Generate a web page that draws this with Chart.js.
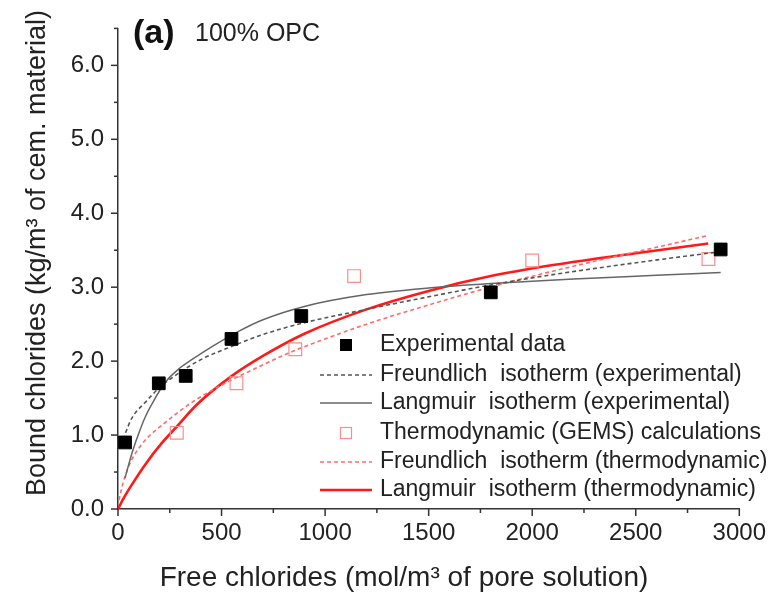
<!DOCTYPE html>
<html>
<head>
<meta charset="utf-8">
<script src="https://cdn.jsdelivr.net/npm/chart.js@4.4.1/dist/chart.umd.min.js"></script>
<style>
  html, body { margin: 0; padding: 0; background: #fff; }
  #wrap { width: 776px; height: 594px; }
</style>
</head>
<body>
<div id="wrap"><canvas id="isoChart"></canvas></div>
<script>
// measured points
const expX = [34, 197, 327, 548, 885, 1800, 2910];
const expY = [0.90, 1.70, 1.80, 2.30, 2.61, 2.93, 3.51];
const gemsX = [284, 572, 856, 1140, 2000, 2851];
const gemsY = [1.03, 1.70, 2.16, 3.15, 3.36, 3.38];

// fitted curves
const freExpX = [15, 30, 67, 131, 200, 300, 400, 550, 700, 900, 1200, 1500, 1800, 2100, 2500, 2880];
const freExpY = [0.85, 0.98, 1.23, 1.44, 1.64, 1.85, 2.02, 2.20, 2.36, 2.52, 2.70, 2.87, 3.03, 3.17, 3.33, 3.47];
const lanExpX = [34, 67, 100, 131, 160, 227, 300, 356, 450, 580, 700, 900, 1200, 1500, 1800, 2200, 2600, 2910];
const lanExpY = [0.42, 0.75, 1.02, 1.24, 1.40, 1.71, 1.91, 2.02, 2.19, 2.40, 2.56, 2.74, 2.90, 2.99, 3.05, 3.11, 3.16, 3.20];
const freThX = [5, 15, 35, 67, 131, 211, 340, 450, 640, 850, 1000, 1200, 1500, 1850, 2300, 2600, 2850];
const freThY = [0.12, 0.25, 0.45, 0.67, 0.93, 1.13, 1.41, 1.60, 1.87, 2.14, 2.30, 2.50, 2.76, 3.04, 3.35, 3.54, 3.70];
const lanThX = [0, 30, 67, 131, 211, 276, 380, 550, 700, 900, 1200, 1500, 1800, 2100, 2500, 2850];
const lanThY = [0, 0.16, 0.33, 0.60, 0.89, 1.09, 1.41, 1.80, 2.07, 2.37, 2.70, 2.95, 3.15, 3.30, 3.46, 3.59];

const xTicks = [0, 500, 1000, 1500, 2000, 2500, 3000];
const yTicks = [0, 1, 2, 3, 4, 5, 6];

const legendNames = [
  'Experimental data',
  'Freundlich  isotherm (experimental)',
  'Langmuir  isotherm (experimental)',
  'Thermodynamic (GEMS) calculations',
  'Freundlich  isotherm (thermodynamic)',
  'Langmuir  isotherm (thermodynamic)'
];

const pts = (xs, ys) => xs.map((x, i) => ({ x: x, y: ys[i] }));
const FONT = 'Liberation Sans, Arial, sans-serif';

function curve(label, xs, ys, color, width, dash) {
  return {
    label: label, data: pts(xs, ys), showLine: true, pointRadius: 0,
    borderColor: color, borderWidth: width, borderDash: dash,
    cubicInterpolationMode: 'monotone', fill: false
  };
}

const datasets = [
  { label: legendNames[0], data: pts(expX, expY), pointStyle: 'rect', pointRadius: 9,
    backgroundColor: '#000', borderColor: '#000', borderWidth: 1, order: 0 },
  curve(legendNames[1], freExpX, freExpY, '#555', 1.6, [4, 3]),
  curve(legendNames[2], lanExpX, lanExpY, '#666', 1.5, []),
  { label: legendNames[3], data: pts(gemsX, gemsY), pointStyle: 'rect', pointRadius: 9,
    backgroundColor: 'rgba(0,0,0,0)', borderColor: '#ff8c8c', borderWidth: 1.2, order: 0 },
  curve(legendNames[4], freThX, freThY, '#ff6b6b', 1.6, [4, 3]),
  curve(legendNames[5], lanThX, lanThY, '#ff1a1a', 2.6, [])
];

const decor = {
  id: 'decor',
  afterDraw(chart) {
    const ctx = chart.ctx;
    const xs = chart.scales.x, ys = chart.scales.y;
    const a = chart.chartArea;
    ctx.save();
    ctx.strokeStyle = '#333';
    ctx.lineWidth = 1.5;
    // ticks, major + minor, pointing outward
    for (let v = 0; v <= 3000; v += 250) {
      const px = xs.getPixelForValue(v);
      const len = v % 500 === 0 ? 7 : 4;
      ctx.beginPath(); ctx.moveTo(px, a.bottom); ctx.lineTo(px, a.bottom + len); ctx.stroke();
    }
    for (let v = 0; v <= 6.5001; v += 0.5) {
      const py = ys.getPixelForValue(v);
      const len = Math.abs(v - Math.round(v)) < 0.01 ? 7 : 4;
      ctx.beginPath(); ctx.moveTo(a.left, py); ctx.lineTo(a.left - len, py); ctx.stroke();
    }
    // axis titles
    ctx.fillStyle = '#222';
    ctx.textAlign = 'center';
    ctx.textBaseline = 'middle';
    ctx.font = '28px ' + FONT;
    ctx.fillText('Free chlorides (mol/m\u00b3 of pore solution)', 404, 578);
    ctx.save();
    ctx.translate(38, 253);
    ctx.rotate(-Math.PI / 2);
    ctx.font = '27px ' + FONT;
    ctx.fillText('Bound chlorides (kg/m\u00b3 of cem. material)', 0, 0);
    ctx.restore();
    // panel label
    ctx.textAlign = 'left';
    ctx.font = 'bold 34px ' + FONT;
    ctx.fillStyle = '#111';
    ctx.fillText('(a)', 133, 34);
    ctx.font = '25px ' + FONT;
    ctx.fillStyle = '#222';
    ctx.fillText('100% OPC', 195, 34);
    // legend
    const rowY = [345, 375, 403, 433, 462, 490];
    ctx.font = '23px ' + FONT;
    chart.data.datasets.forEach((ds, i) => {
      const y = rowY[i];
      if (ds.showLine) {
        ctx.save();
        ctx.strokeStyle = ds.borderColor;
        ctx.lineWidth = ds.borderWidth;
        ctx.setLineDash(ds.borderDash || []);
        ctx.beginPath(); ctx.moveTo(320, y); ctx.lineTo(372, y); ctx.stroke();
        ctx.restore();
      } else {
        const s = i === 0 ? 12 : 11;
        if (i === 0) { ctx.fillStyle = '#000'; ctx.fillRect(346 - s / 2, y - s / 2, s, s); }
        else {
          ctx.save(); ctx.strokeStyle = ds.borderColor; ctx.lineWidth = 1.2;
          ctx.strokeRect(346 - s / 2, y - s / 2, s, s); ctx.restore();
        }
      }
      ctx.fillStyle = '#222';
      ctx.fillText(ds.label, 380, y);
    });
    ctx.restore();
  }
};

new Chart(document.getElementById('isoChart'), {
  type: 'scatter',
  data: { datasets: datasets },
  options: {
    responsive: true,
    maintainAspectRatio: false,
    animation: false,
    layout: { padding: { top: 7, right: 34, left: 0, bottom: 0 } },
    plugins: { legend: { display: false }, tooltip: { enabled: false } },
    scales: {
      x: {
        type: 'linear', min: 0, max: 3000,
        afterFit: (s) => { s.height = 85; },
        afterBuildTicks: (s) => { s.ticks = xTicks.map(v => ({ value: v })); },
        ticks: { font: { size: 24, family: FONT }, color: '#222', padding: 10, maxRotation: 0,
          callback: (v) => String(v) },
        grid: { display: false, drawTicks: false },
        border: { display: true, color: '#333', width: 1.5 }
      },
      y: {
        type: 'linear', min: 0, max: 6.5,
        afterFit: (s) => { s.width = 118; },
        afterBuildTicks: (s) => { s.ticks = yTicks.map(v => ({ value: v })); },
        ticks: { font: { size: 24, family: FONT }, color: '#222', padding: 14,
          callback: (v) => Number(v).toFixed(1) },
        grid: { display: false, drawTicks: false },
        border: { display: true, color: '#333', width: 1.5 }
      }
    }
  },
  plugins: [decor]
});
</script>
</body>
</html>
